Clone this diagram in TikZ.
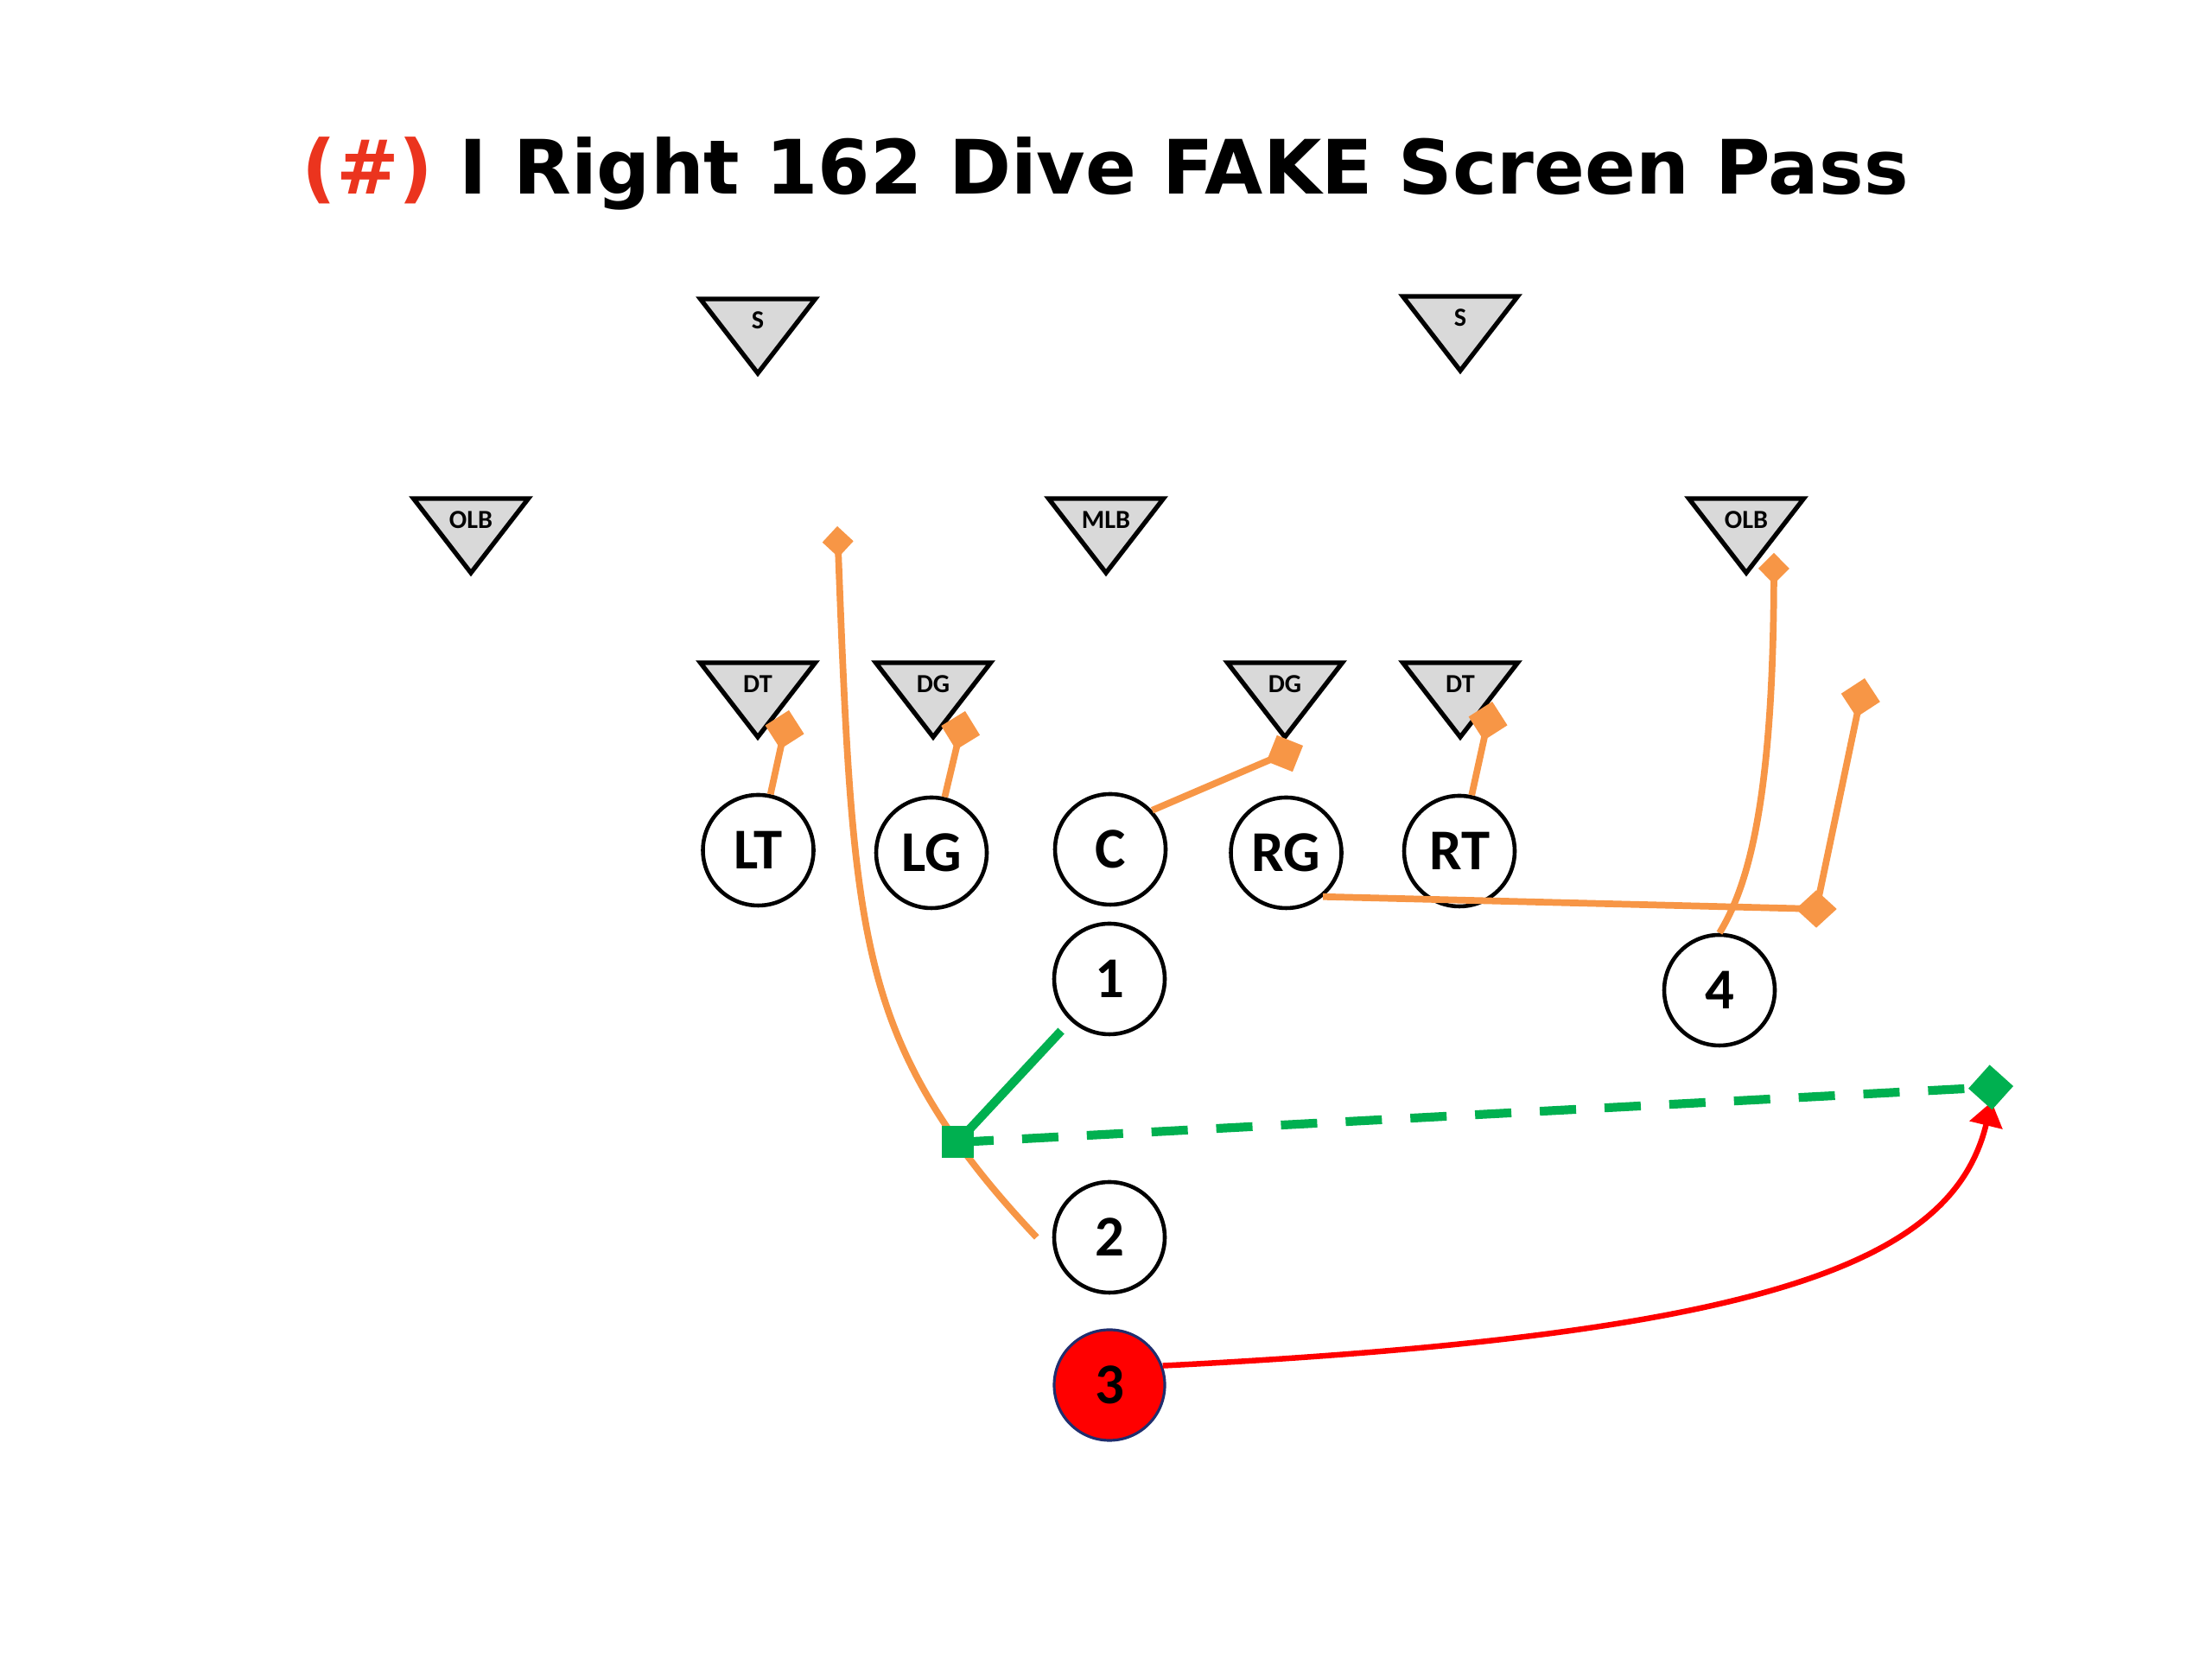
\documentclass[tikz,border=0pt]{standalone}
\usepackage{fontspec}
\setmainfont{Carlito}
\newfontfamily\headfont{DejaVu Sans}
\usetikzlibrary{arrows.meta,shapes.geometric}
\definecolor{runorange}{RGB}{247,150,70}
\definecolor{passgreen}{RGB}{0,176,80}
\definecolor{hashred}{RGB}{235,52,30}
\definecolor{qbnavy}{RGB}{32,46,110}
\definecolor{defgray}{RGB}{217,217,217}
\tikzset{
  player/.style={circle,draw,line width=1.3pt,fill=white,minimum size=1.28cm,inner sep=0pt,
    font=\bfseries\fontsize{19}{19}\selectfont},
  qb/.style={player,fill=red,draw=qbnavy,line width=0.9pt},
  defbox/.style={draw,line width=1.5pt,fill=defgray},
  deflbl/.style={inner sep=0pt,font=\bfseries\fontsize{8.6}{8.6}\selectfont},
  route/.style={draw=runorange,line width=2.2pt},
  block/.style={route,-{Diamond[length=0.46cm,width=0.46cm]}},
  smallblock/.style={route,-{Diamond[length=0.36cm,width=0.36cm]}},
  turnmark/.style={diamond,fill=runorange,inner sep=0pt,minimum width=0.48cm,minimum height=0.44cm},
  handoff/.style={rectangle,fill=passgreen,inner sep=0pt,minimum size=0.37cm},
  toss/.style={draw=passgreen,line width=2.9pt},
  flight/.style={toss,dash pattern=on 0.42cm off 0.33cm,-{Diamond[length=0.52cm,width=0.52cm]}},
  pass/.style={draw=red,line width=1.85pt,-{Triangle[length=0.28cm,width=0.38cm]}}
}
\begin{document}
\begin{tikzpicture}
  \useasboundingbox (0,0) rectangle (25.6,19.2);
  \node[anchor=base,font=\headfont\bfseries\fontsize{24.7}{24.7}\selectfont] (ttl) at (12.79,16.95)
    {\textcolor{hashred}{(\#)} I Right 162 Dive FAKE Screen Pass};
  % defense
  \foreach \nm/\x/\y/\txt in {sL/8.77/15.74/S, sR/16.90/15.77/S, oL/5.45/13.43/OLB,
      mlb/12.80/13.43/MLB, oR/20.21/13.43/OLB, tL/8.77/11.53/DT, gL/10.80/11.53/DG,
      gR/14.87/11.53/DG, tR/16.90/11.53/DT}{
    \draw[defbox] ({\x-0.665},\y) -- ({\x+0.665},\y) -- (\x,{\y-0.86}) -- cycle;
    \node[deflbl] (\nm) at (\x,{\y-0.245}) {\txt};
  }
  % offense
  \node[player] (LT) at (8.775,9.36) {LT};
  \node[player] (LG) at (10.78,9.33) {LG};
  \node[player] (C) at (12.85,9.37) {C};
  \node[player] (RG) at (14.885,9.33) {RG};
  \node[player] (RT) at (16.89,9.35) {RT};
  \node[player] (P1) at (12.84,7.87) {1};
  \node[player] (P4) at (19.90,7.74) {4};
  \node[player] (P2) at (12.84,4.88) {2};
  \node[qb] (P3) at (12.84,3.17) {3};
  % blocks
  \coordinate (bLT) at (9.13,10.98);
  \coordinate (bLG) at (11.17,10.97);
  \coordinate (bC) at (15.08,10.57);
  \coordinate (bRT) at (17.27,11.08);
  \coordinate (bRG) at (21.58,11.35);
  \coordinate (b4) at (20.53,12.80);
  \coordinate (b2) at (9.69,13.11);
  \coordinate (s2) at ([xshift=-0.18cm]P2.west);
  \draw[block] (LT) -- (bLT);
  \draw[block] (LG) -- (bLG);
  \draw[block] (C.43) -- (bC);
  \draw[block] (RT) -- (bRT);
  \node[turnmark] (turn) at (21.02,8.68) {};
  \draw[route] (RG.-50) -- (turn.center);
  \draw[block] (turn.center) -- (bRG);
  \draw[smallblock] (P4.north) .. controls (20.2,8.9) and (20.52,9.8) .. (b4);
  % fake handoff and screen
  \coordinate (hp) at (11.08,5.98);
  \draw[smallblock] (s2) .. controls (11.65,5.25) and (11.35,5.6) .. (hp)
    .. controls (9.92,7.62) and (9.85,8.93) .. (b2);
  \coordinate (catch) at (23.30,6.63);
  \coordinate (arr) at (23.05,6.45);
  \draw[pass] (P3.20) .. controls (20.5,3.75) and (22.6,4.6) .. (arr);
  \node[handoff] (hand) at (hp) {};
  \draw[toss,shorten <=4.5pt] (P1) -- (hand.center);
  \draw[flight] (hand.center) -- (catch);
\end{tikzpicture}
\end{document}
